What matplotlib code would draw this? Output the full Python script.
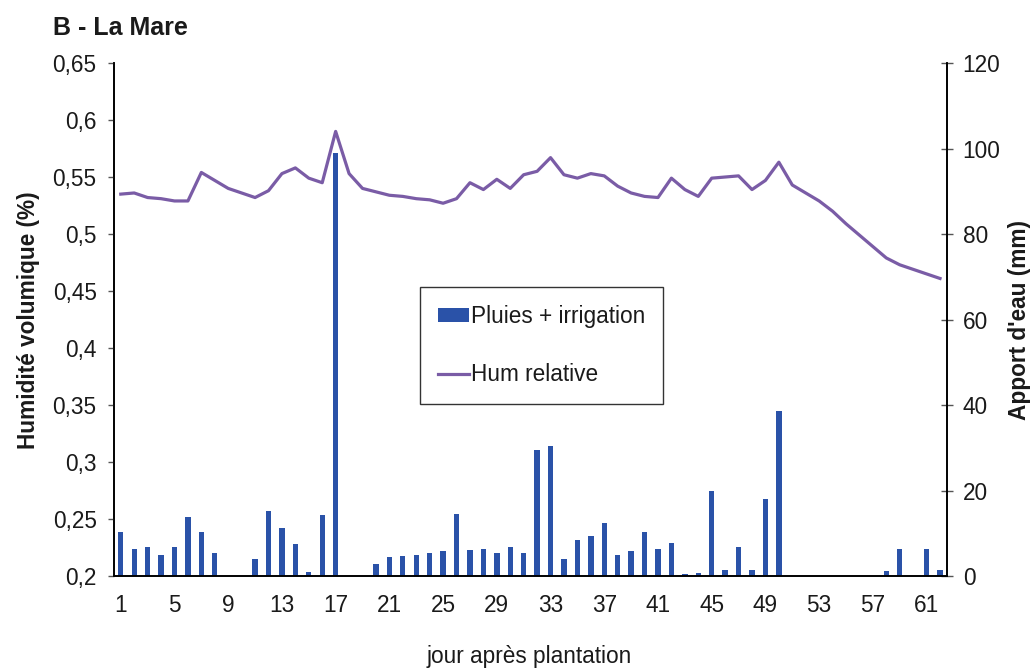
import numpy as np
import matplotlib
matplotlib.use("Agg")
import matplotlib.pyplot as plt

plt.rcParams['font.family'] = ['Liberation Sans', 'DejaVu Sans']

# days after planting
jours = np.arange(1, 63)

# rain + irrigation (mm), right axis
apport = [10.4, 6.4, 6.7, 5.0, 6.7, 13.7, 10.4, 5.4, 0, 0,
          3.9, 15.3, 11.3, 7.4, 0.9, 14.2, 99.0, 0, 0, 2.9,
          4.4, 4.7, 5.0, 5.4, 5.9, 14.6, 6.1, 6.4, 5.4, 6.9,
          5.4, 29.4, 30.5, 3.9, 8.4, 9.4, 12.4, 5.0, 5.9, 10.2,
          6.4, 7.8, 0.4, 0.7, 20.0, 1.5, 6.7, 1.5, 17.9, 38.6,
          0, 0, 0, 0, 0, 0, 0, 1.1, 6.4, 0,
          6.4, 1.5]

# volumetric soil moisture, left axis
humidite = [0.535, 0.536, 0.532, 0.531, 0.529, 0.529, 0.554, 0.547, 0.540, 0.536,
            0.532, 0.538, 0.553, 0.558, 0.549, 0.545, 0.590, 0.553, 0.540, 0.537,
            0.534, 0.533, 0.531, 0.530, 0.527, 0.531, 0.545, 0.539, 0.548, 0.540,
            0.552, 0.555, 0.567, 0.552, 0.549, 0.553, 0.551, 0.542, 0.536, 0.533,
            0.532, 0.549, 0.539, 0.533, 0.549, 0.550, 0.551, 0.539, 0.547, 0.563,
            0.543, 0.536, 0.529, 0.520, 0.509, 0.499, 0.489, 0.479, 0.473, 0.469,
            0.465, 0.461]

yticks_g = [0.2, 0.25, 0.3, 0.35, 0.4, 0.45, 0.5, 0.55, 0.6, 0.65]
ylabels_g = ["0,2", "0,25", "0,3", "0,35", "0,4", "0,45", "0,5", "0,55", "0,6", "0,65"]
yticks_d = [0, 20, 40, 60, 80, 100, 120]
xticks = list(range(1, 63, 4))

fs = 16.3
txt = '#1a1a1a'

fig = plt.figure(figsize=(10.34, 6.69), dpi=100)
ax = fig.add_axes([0.1103, 0.139, 0.8053, 0.7668])
ax2 = ax.twinx()

bars = ax2.bar(jours, apport, width=0.4, color='#2a52a8', linewidth=0,
               label="Pluies + irrigation")
line, = ax.plot(jours, humidite, color='#7a5ca6', lw=2.3,
                solid_joinstyle='round', label="Hum relative")

# line over the bars
ax.set_zorder(ax2.get_zorder() + 1)
ax.patch.set_visible(False)

ax.set_xlim(0.5, 62.5)
ax.set_ylim(0.2, 0.65)
ax2.set_ylim(0, 120)

ax.set_yticks(yticks_g)
ax.set_yticklabels(ylabels_g)
ax2.set_yticks(yticks_d)
ax.set_xticks(xticks)

ax.spines['top'].set_visible(False)
ax2.spines['top'].set_visible(False)
for a in (ax, ax2):
    for s in a.spines.values():
        s.set_linewidth(1.2)
        s.set_color('black')

ax.tick_params(axis='y', direction='out', length=4.5, width=1, colors='#555555',
               labelcolor=txt, labelsize=fs, pad=8)
ax.tick_params(axis='x', length=0, labelsize=fs, labelcolor=txt, pad=13)
ax2.tick_params(axis='y', direction='inout', length=9, width=1, colors='#555555',
                labelcolor=txt, labelsize=fs, pad=7)

fig.text(0.051, 0.958, "B - La Mare", fontsize=18, fontweight='bold',
         color=txt, ha='left', va='center')
fig.text(0.028, 0.522, "Humidité volumique (%)", fontsize=fs, fontweight='bold',
         color=txt, rotation=90, ha='center', va='center')
fig.text(0.986, 0.522, "Apport d'eau (mm)", fontsize=fs, fontweight='bold',
         color=txt, rotation=90, ha='center', va='center')
fig.text(0.512, 0.018, "jour après plantation", fontsize=fs,
         color=txt, ha='center', va='center')

leg = ax.legend([bars, line], ["Pluies + irrigation", "Hum relative"],
                loc='upper left', bbox_to_anchor=(0.3675, 0.5634),
                fontsize=fs, frameon=True, fancybox=False, borderpad=0.8,
                labelspacing=1.55, handlelength=1.35, handleheight=0.55,
                handletextpad=0.1, borderaxespad=0)
leg.get_frame().set_edgecolor('black')
leg.get_frame().set_linewidth(1.0)
for t in leg.get_texts():
    t.set_color(txt)

fig.savefig("out.png", dpi=100)
